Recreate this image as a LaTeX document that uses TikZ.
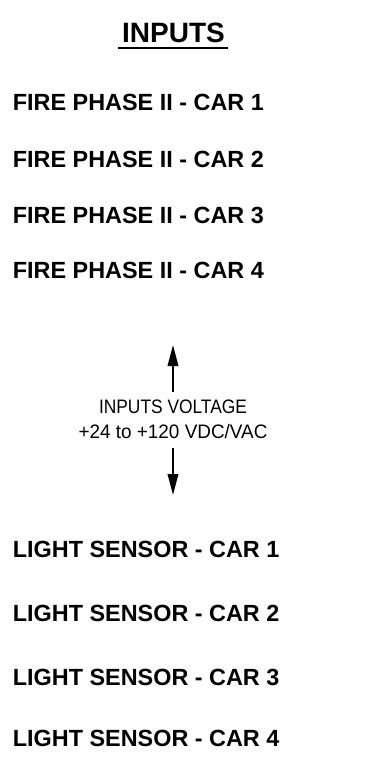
\documentclass[tikz,border=0pt]{standalone}
\usepackage{fontspec}
\setmainfont{Liberation Sans}
\newfontface\voltnarrow[FakeStretch=0.89]{Liberation Sans}
\newfontface\voltwide[FakeStretch=0.97]{Liberation Sans}
\usetikzlibrary{arrows.meta}
\tikzset{
  rowtext/.style={anchor=base west, inner sep=0pt, font=\fontsize{23.4}{28}\selectfont\bfseries},
  titletext/.style={anchor=base, inner sep=0pt, font=\fontsize{28}{32}\selectfont\bfseries},
  volttext/.style={anchor=base, inner sep=0pt},
  voltarrow/.style={line width=2pt, -{Triangle[length=21pt,width=10.5pt]}}
}
\begin{document}
\begin{tikzpicture}[x=1pt,y=-1pt]
\useasboundingbox (0,0) rectangle (377,761);
\node[titletext] (title) at (173.5,42.7) {INPUTS};
\draw[line width=2pt] (118,47.5) -- (228,47.5);
\node[rowtext] (f1) at (12.7,110.7) {FIRE PHASE II - CAR 1};
\node[rowtext] (f2) at (12.7,167.2) {FIRE PHASE II - CAR 2};
\node[rowtext] (f3) at (12.7,223.2) {FIRE PHASE II - CAR 3};
\node[rowtext] (f4) at (12.7,278.7) {FIRE PHASE II - CAR 4};
\node[volttext, font=\voltnarrow\fontsize{19.5}{24}\selectfont] (v1) at (173,413) {INPUTS VOLTAGE};
\node[volttext, font=\voltwide\fontsize{19.5}{24}\selectfont] (v2) at (173,438) {+24 to +120 VDC/VAC};
\coordinate (upbase) at (173,392);
\coordinate (uptip) at (173,345);
\coordinate (downbase) at (173,448);
\coordinate (downtip) at (173,495);
\draw[voltarrow] (upbase) -- (uptip);
\draw[voltarrow] (downbase) -- (downtip);
\node[rowtext] (l1) at (12.7,557) {LIGHT SENSOR - CAR 1};
\node[rowtext] (l2) at (12.7,621.5) {LIGHT SENSOR - CAR 2};
\node[rowtext] (l3) at (12.7,685) {LIGHT SENSOR - CAR 3};
\node[rowtext] (l4) at (12.7,746.7) {LIGHT SENSOR - CAR 4};
\end{tikzpicture}
\end{document}
